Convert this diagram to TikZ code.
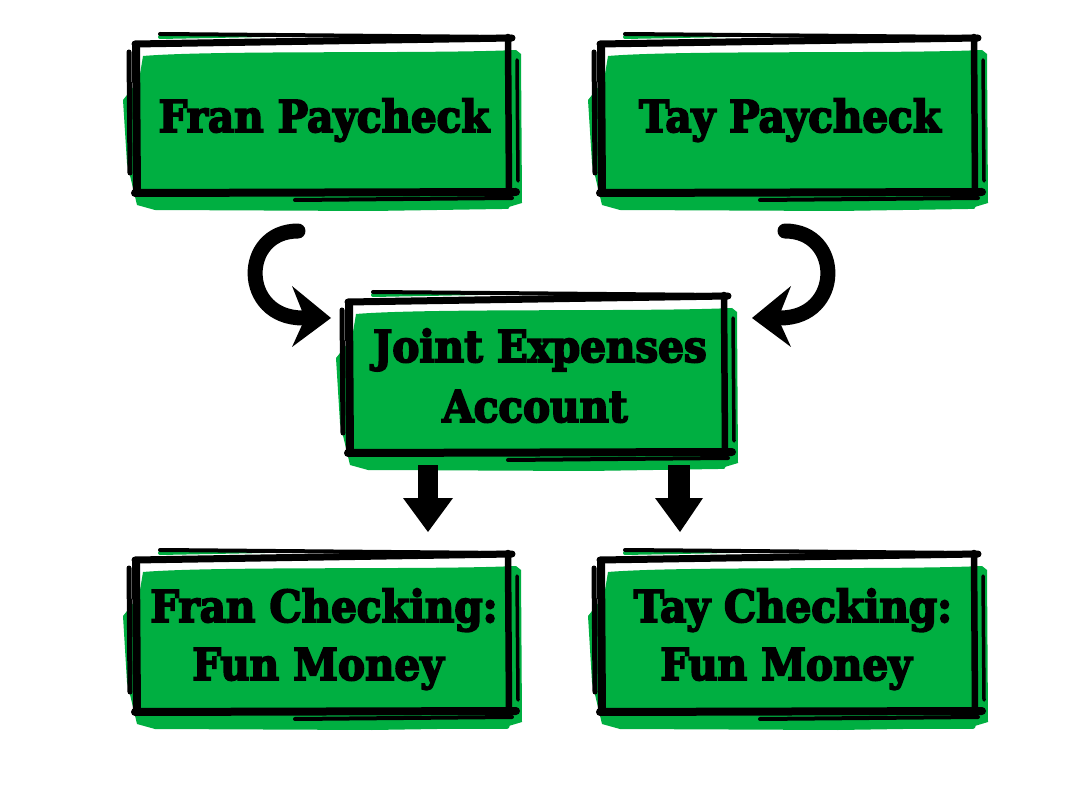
\documentclass[tikz,border=0pt]{standalone}
\usepackage{fontspec}
\setmainfont{DejaVu Serif}
\newfontfamily\heavy{DejaVu Serif Bold}[FakeBold=4, FakeStretch=0.92]
\definecolor{grn}{HTML}{00AF41}
\newcommand\sketchbox[4]{%
 \fill[grn] ({#1+8},{#2+16}) .. controls ({#1+80},{#2+10}) and ({#3-80},{#2+14}) .. ({#3+4},{#2+10})
   -- ({#3+9},{#2+14}) -- ({#3+10},{#4+10}) -- ({#3-10},{#4+16}) -- ({#3-140},{#4+18}) -- ({#1+20},{#4+17})
   -- ({#1+2},{#4+12}) -- ({#1-8},{#4-30}) -- ({#1-12},{#2+60}) -- ({#1+4},{#2+40}) -- cycle;
 \draw[grn, line width=4pt, line cap=round] ({#1+25},{#2-3}) -- ({#1+130},{#2-5});
 \draw[grn, line width=5pt, line cap=round] ({#1+150},{#4+14}) -- ({#3-5},{#4+14});
 \begin{scope}[black, line cap=round]
  \draw[line width=4pt] ({#1+25},{#2-6}) -- ({#3-5},{#2-3});
  \draw[line width=7pt] ({#1},{#2+4}) -- ({#3},{#2-2});
  \draw[line width=8pt] ({#1+1},{#2+6}) -- ({#1+2},{#4});
  \draw[line width=5pt] ({#1-6},{#2+12}) -- ({#1-5},{#4-20});
  \draw[line width=6.5pt] ({#3-4},{#2-3}) -- ({#3-3},{#4});
  \draw[line width=3.5pt] ({#3+5},{#2+20}) -- ({#3+6},{#4-12});
  \draw[line width=8pt] ({#1},{#4}) -- ({#3+4},{#4-1});
  \draw[line width=4pt] ({#1+160},{#4+7}) -- ({#3},{#4+5});
 \end{scope}
}
\tikzset{lbl/.style={anchor=base, inner sep=0pt, font=\fontsize{44}{50}\selectfont\heavy}}
\begin{document}
\begin{tikzpicture}[x=1pt,y=-1pt]
\useasboundingbox (0,0) rectangle (1080,786);
\fill[white] (0,0) rectangle (1080,786);
\sketchbox{135}{40}{512}{193}
\sketchbox{600}{40}{978}{193}
\sketchbox{348}{298}{728}{453}
\sketchbox{135}{556}{512}{712}
\sketchbox{600}{556}{978}{712}
\node[lbl] (fp) at (324,132) {Fran Paycheck};
\node[lbl] (tp) at (790,132) {Tay Paycheck};
\node[lbl] (j1) at (540,362) {Joint Expenses};
\node[lbl] (j2) at (535,422) {Account};
\node[lbl] (fc1) at (324,622) {Fran Checking:};
\node[lbl] (fc2) at (318,680) {Fun Money};
\node[lbl] (tc1) at (793,622) {Tay Checking:};
\node[lbl] (tc2) at (786,680) {Fun Money};
% curved arrows
\coordinate (la) at (298,231);
\coordinate (lb) at (303,318);
\draw[line width=15pt, line cap=round] (la) .. controls (240,231) and (240,318) .. (lb);
\fill (331,318) -- (292,286) -- (302,311) -- (302,325) -- (292,347) -- cycle;
\coordinate (ra) at (785,231);
\coordinate (rb) at (780,318);
\draw[line width=15pt, line cap=round] (ra) .. controls (843,231) and (843,318) .. (rb);
\fill (752,318) -- (791,286) -- (781,311) -- (781,325) -- (791,347) -- cycle;
% down arrows
\fill (418,465) rectangle (438,500);
\fill (403,498) -- (453,498) -- (428,532) -- cycle;
\fill (668,465) rectangle (690,500);
\fill (655,498) -- (703,498) -- (680,532) -- cycle;
\end{tikzpicture}
\end{document}
